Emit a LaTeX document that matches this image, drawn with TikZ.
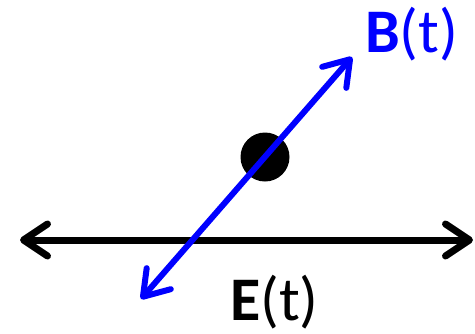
\documentclass[tikz,border=0pt]{standalone}
\usepackage{fontspec}
\setmainfont{Carlito}
\usetikzlibrary{arrows.meta}
\begin{document}
\begin{tikzpicture}[x=1pt,y=-1pt,
  vec/.style={line width=7pt,{Straight Barb[length=24pt,width=32pt,round]}-{Straight Barb[length=24pt,width=32pt,round]}},
  lbl/.style={inner sep=0pt,anchor=base west,font=\fontsize{62}{62}\selectfont}]
\useasboundingbox (0,0) rectangle (475,333);
\coordinate (el) at (20,240);
\coordinate (er) at (473,240);
\coordinate (bl) at (141,299);
\coordinate (bu) at (352,57);
\draw[vec,black] (el) -- (er);
\fill[black] (265,157) circle (24.5) node (dot) {};
\draw[vec,blue,line width=6pt] (bl) -- (bu);
\node[lbl,text=blue] (B) at (365,52) {\textbf{B}(t)};
\node[lbl,text=black] (E) at (230,320) {\textbf{E}(t)};
\end{tikzpicture}
\end{document}
